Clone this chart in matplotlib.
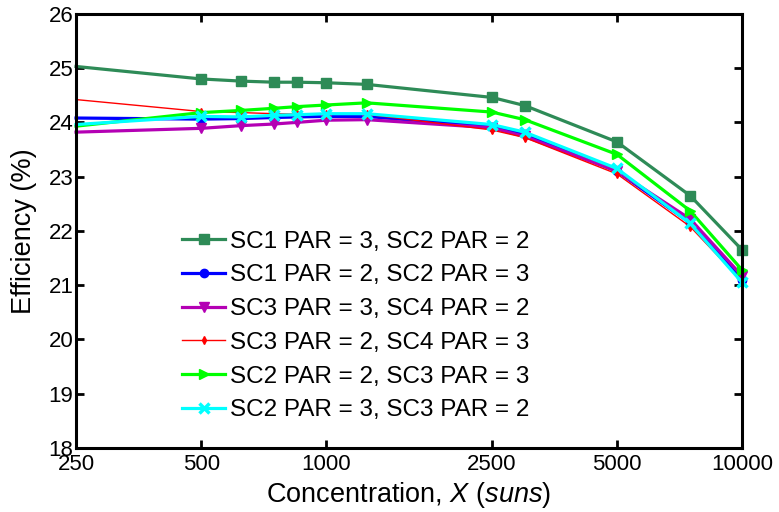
import matplotlib
matplotlib.use('Agg')
import matplotlib.pyplot as plt
from matplotlib.ticker import FixedLocator, FixedFormatter, NullLocator

plt.rcParams['font.family'] = ['Liberation Sans', 'DejaVu Sans']
plt.rcParams['mathtext.fontset'] = 'custom'
plt.rcParams['mathtext.rm'] = 'Liberation Sans'
plt.rcParams['mathtext.it'] = 'Liberation Sans:italic'

conc = [250, 500, 625, 750, 850, 1000, 1250, 2500, 3000, 5000, 7500, 10000]

sc1_3_sc2_2 = [25.03, 24.80, 24.76, 24.74, 24.74, 24.73, 24.70, 24.46, 24.31, 23.64, 22.65, 21.65]
sc1_2_sc2_3 = [24.08, 24.06, 24.07, 24.09, 24.10, 24.11, 24.11, 23.92, 23.78, 23.10, 22.15, 21.10]
sc3_3_sc4_2 = [23.82, 23.89, 23.94, 23.97, 24.00, 24.04, 24.05, 23.90, 23.74, 23.10, 22.22, 21.17]
sc3_2_sc4_3 = [24.42, 24.20, 24.18, 24.16, 24.15, 24.16, 24.15, 23.86, 23.72, 23.05, 22.08, 21.07]
sc2_2_sc3_3 = [23.93, 24.18, 24.22, 24.26, 24.29, 24.32, 24.36, 24.19, 24.05, 23.41, 22.37, 21.28]
sc2_3_sc3_2 = [23.96, 24.11, 24.10, 24.13, 24.14, 24.16, 24.16, 23.96, 23.82, 23.15, 22.14, 21.05]

labels = ['SC1 PAR = 3, SC2 PAR = 2', 'SC1 PAR = 2, SC2 PAR = 3',
          'SC3 PAR = 3, SC4 PAR = 2', 'SC3 PAR = 2, SC4 PAR = 3',
          'SC2 PAR = 2, SC3 PAR = 3', 'SC2 PAR = 3, SC3 PAR = 2']

xticks = [250, 500, 1000, 2500, 5000, 10000]
yticks = [18, 19, 20, 21, 22, 23, 24, 25, 26]

fig = plt.figure(figsize=(7.79, 5.12), dpi=100)
ax = fig.add_axes([0.0976, 0.125, 0.855, 0.848])

marks = list(range(1, len(conc)))
ax.plot(conc, sc1_3_sc2_2, '-s', color='#2e8b57', lw=2.3, ms=7, markevery=marks, clip_on=False, label=labels[0])
ax.plot(conc, sc1_2_sc2_3, '-o', color='#0000ff', lw=2.3, ms=6, markevery=marks, clip_on=False, label=labels[1])
ax.plot(conc, sc3_3_sc4_2, '-v', color='#b400b4', lw=2.3, ms=7, markevery=marks, clip_on=False, label=labels[2])
ax.plot(conc, sc3_2_sc4_3, '-d', color='#ff0000', lw=1.0, ms=4, markevery=marks, clip_on=False, label=labels[3])
ax.plot(conc, sc2_2_sc3_3, '->', color='#00ff00', lw=2.3, ms=7, markevery=marks, clip_on=False, label=labels[4])
ax.plot(conc, sc2_3_sc3_2, '-x', color='#00ffff', lw=2.3, ms=7, mew=2.5, markevery=marks, clip_on=False, label=labels[5])

ax.set_xscale('log')
ax.set_xlim(250, 10000)
ax.set_ylim(18, 26)
ax.xaxis.set_major_locator(FixedLocator(xticks))
ax.xaxis.set_major_formatter(FixedFormatter([str(t) for t in xticks]))
ax.xaxis.set_minor_locator(NullLocator())
ax.set_yticks(yticks)

ax.tick_params(direction='in', length=6, width=2, labelsize=16, top=True, right=True, pad=2)
ax.tick_params(axis='x', pad=4)
for s in ax.spines.values():
    s.set_linewidth(2.2)

ax.set_xlabel('Concentration, $\\it{X\\ (suns)}$', fontsize=19.5, labelpad=4)
ax.set_ylabel('Efficiency (%)', fontsize=19.5, labelpad=8)

ax.legend(loc='center', bbox_to_anchor=(0.42, 0.281), frameon=False, fontsize=17.5,
          handlelength=1.75, handletextpad=0.2, labelspacing=0.48)

fig.savefig('out.png', dpi=100)
